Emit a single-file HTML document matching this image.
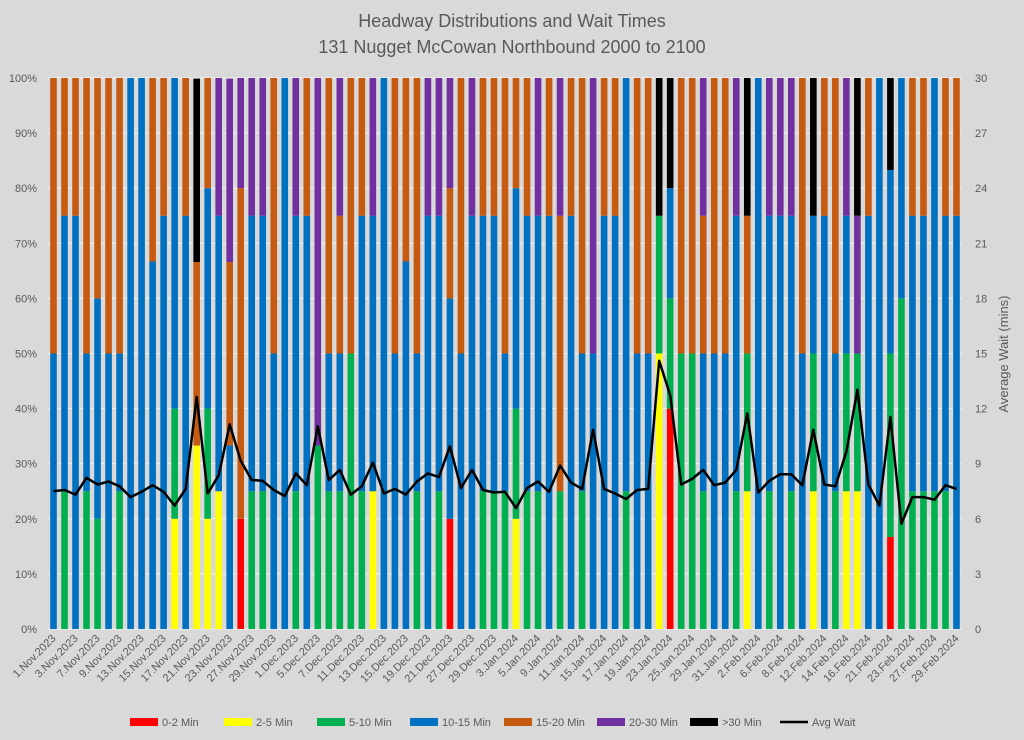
<!DOCTYPE html>
<html><head><meta charset="utf-8"><style>
html,body{margin:0;padding:0;background:#d9d9d9;}
svg{display:block;font-family:"Liberation Sans",sans-serif;}
</style></head><body>
<svg id="chart" width="1024" height="740" viewBox="0 0 1024 740">
<rect x="0" y="0" width="1024" height="740" fill="#d9d9d9"/>
<text x="512" y="27" text-anchor="middle" font-size="18" fill="#595959">Headway Distributions and Wait Times</text>
<text x="512" y="53" text-anchor="middle" font-size="18" fill="#595959">131 Nugget  McCowan Northbound 2000 to 2100</text>
<g id="grid"></g>
<g id="bars"></g>
<g id="line"></g>
<g id="axes"></g>
<text transform="translate(1008,354) rotate(-90)" text-anchor="middle" font-size="13" fill="#595959">Average Wait (mins)</text>
<g id="legend"></g>
</svg>
<script>
const categories = ["1.Nov.2023","2.Nov.2023","3.Nov.2023","6.Nov.2023","7.Nov.2023","8.Nov.2023","9.Nov.2023","10.Nov.2023","13.Nov.2023","14.Nov.2023","15.Nov.2023","16.Nov.2023","17.Nov.2023","20.Nov.2023","21.Nov.2023","22.Nov.2023","23.Nov.2023","24.Nov.2023","27.Nov.2023","28.Nov.2023","29.Nov.2023","30.Nov.2023",
"1.Dec.2023","4.Dec.2023","5.Dec.2023","6.Dec.2023","7.Dec.2023","8.Dec.2023","11.Dec.2023","12.Dec.2023","13.Dec.2023","14.Dec.2023","15.Dec.2023","18.Dec.2023","19.Dec.2023","20.Dec.2023","21.Dec.2023","22.Dec.2023","27.Dec.2023","28.Dec.2023","29.Dec.2023",
"2.Jan.2024","3.Jan.2024","4.Jan.2024","5.Jan.2024","8.Jan.2024","9.Jan.2024","10.Jan.2024","11.Jan.2024","12.Jan.2024","15.Jan.2024","16.Jan.2024","17.Jan.2024","18.Jan.2024","19.Jan.2024","22.Jan.2024","23.Jan.2024","24.Jan.2024","25.Jan.2024","26.Jan.2024","29.Jan.2024","30.Jan.2024","31.Jan.2024",
"1.Feb.2024","2.Feb.2024","5.Feb.2024","6.Feb.2024","7.Feb.2024","8.Feb.2024","9.Feb.2024","12.Feb.2024","13.Feb.2024","14.Feb.2024","15.Feb.2024","16.Feb.2024","20.Feb.2024","21.Feb.2024","22.Feb.2024","23.Feb.2024","26.Feb.2024","27.Feb.2024","28.Feb.2024","29.Feb.2024"];
const red = [0,0,0,0,0,0,0,0,0,0, 0,0,0,0,0,0,0,20,0,0, 0,0,0,0,0,0,0,0,0,0, 0,0,0,0,0,0,20,0,0,0, 0,0,0,0,0,0,0,0,0,0, 0,0,0,0,0,0,40,0,0,0, 0,0,0,0,0,0,0,0,0,0, 0,0,0,0,0,0,16.7,0,0,0, 0,0,0];
const yellow = [0,0,0,0,0,0,0,0,0,0, 0,20,0,33.3,20,25,0,0,0,0, 0,0,0,0,0,0,0,0,0,25, 0,0,0,0,0,0,0,0,0,0, 0,0,20,0,0,0,0,0,0,0, 0,0,0,0,0,50,0,0,0,0, 0,0,0,25,0,0,0,0,0,25, 0,0,25,25,0,0,0,0,0,0, 0,0,0];
const green = [0,25,0,25,20,0,25,0,0,0, 0,20,0,0,20,0,0,0,25,25, 0,0,25,0,33.3,25,25,50,25,0, 0,0,0,25,0,25,0,0,0,25, 25,25,20,25,25,0,25,0,25,0, 0,0,25,0,0,25,20,50,50,25, 0,0,25,25,0,25,0,25,0,25, 0,25,25,25,0,0,33.3,60,25,25, 25,25,0];
const blue = [50,50,75,25,40,50,25,100,100,66.7, 75,60,75,0,40,50,33.3,0,50,50, 50,100,50,75,0,25,25,0,50,50, 100,50,66.7,25,75,50,40,50,75,50, 50,25,40,50,50,75,0,75,25,50, 75,75,75,50,50,0,20,0,0,25, 50,50,50,0,100,50,75,50,50,25, 75,25,25,0,75,100,33.3,40,50,50, 75,50,75];
const orange = [50,25,25,50,40,50,50,0,0,33.3, 25,0,25,33.3,20,0,33.3,60,0,0, 50,0,0,25,0,50,25,50,25,0, 0,50,33.3,50,0,0,20,50,0,25, 25,50,20,25,0,25,50,25,50,0, 25,25,0,50,50,0,0,50,50,25, 50,50,0,25,0,0,0,0,50,0, 25,50,0,0,25,0,0,0,25,25, 0,25,25];
const purple = [0,0,0,0,0,0,0,0,0,0, 0,0,0,0,0,25,33.3,20,25,25, 0,0,25,0,66.7,0,25,0,0,25, 0,0,0,0,25,25,20,0,25,0, 0,0,0,0,25,0,25,0,0,50, 0,0,0,0,0,0,0,0,0,25, 0,0,25,0,0,25,25,25,0,0, 0,0,25,25,0,0,0,0,0,0, 0,0,0];
const black = [0,0,0,0,0,0,0,0,0,0, 0,0,0,33.3,0,0,0,0,0,0, 0,0,0,0,0,0,0,0,0,0, 0,0,0,0,0,0,0,0,0,0, 0,0,0,0,0,0,0,0,0,0, 0,0,0,0,0,25,20,0,0,0, 0,0,0,25,0,0,0,0,0,25, 0,0,0,25,0,0,16.7,0,0,0, 0,0,0];
const avgWait = [7.51,7.57,7.32,8.23,7.87,8.03,7.77,7.18,7.47,7.83, 7.47,6.72,7.63,12.63,7.38,8.37,11.14,9.16,8.11,8.07, 7.57,7.24,8.47,7.83,11.04,8.11,8.66,7.32,7.77,9.06, 7.38,7.63,7.32,8.03,8.47,8.27,9.95,7.67,8.66,7.57, 7.43,7.47,6.58,7.67,8.03,7.47,8.9,7.97,7.63,10.85, 7.63,7.38,7.08,7.57,7.63,14.61,12.73,7.87,8.17,8.66, 7.83,7.97,8.66,11.74,7.43,8.07,8.43,8.43,7.83,10.85, 7.87,7.77,9.66,13.03,7.87,6.72,11.54,5.73,7.18,7.18, 7.04,7.83,7.63];
const leftTicks = [0,10,20,30,40,50,60,70,80,90,100];
const rightTicks = [0,3,6,9,12,15,18,21,24,27,30];
const seriesNames = ["0-2 Min","2-5 Min","5-10 Min","10-15 Min","15-20 Min","20-30 Min",">30 Min"];

const NS="http://www.w3.org/2000/svg";
const colors=["#ff0000","#ffff00","#00b050","#0070c0","#c55a11","#7030a0","#000000"];
const series=[red,yellow,green,blue,orange,purple,black];
const X0=48, X1=962, Y0=629, Y1=78;
const slot=(X1-X0)/categories.length;
const bw=slot*0.6;
function xC(i){return X0+slot*(i+0.5);}
function yP(p){return Y0-(Y0-Y1)*p/100;}
function yW(v){return Y0-(Y0-Y1)*v/30;}
function mk(tag,attrs,parent){const e=document.createElementNS(NS,tag);for(const k in attrs)e.setAttribute(k,attrs[k]);parent.appendChild(e);return e;}

const grid=document.getElementById('grid');
leftTicks.forEach(t=>{
  const l=mk('line',{x1:X0,x2:X1,y1:yP(t),y2:yP(t),stroke:'#f2f2f2','stroke-width':1},grid);
  
  
});
const barsG=document.getElementById('bars');
categories.forEach((c,i)=>{
  let cum=0;
  series.forEach((s,k)=>{
    const v=s[i]; if(!v) return;
    const r=mk('rect',{x:xC(i)-bw/2,y:yP(cum+v),width:bw,height:yP(cum)-yP(cum+v),fill:colors[k]},barsG);
    
    
    cum+=v;
  });
});
const lineG=document.getElementById('line');
const pts=avgWait.map((v,i)=>xC(i).toFixed(1)+','+yW(v).toFixed(1)).join(' ');
const pl=mk('polyline',{points:pts,fill:'none',stroke:'#000','stroke-width':2.5,'stroke-linejoin':'round'},lineG);



const axes=document.getElementById('axes');
leftTicks.forEach(t=>{
  const e=mk('text',{x:37,y:yP(t)+4,'text-anchor':'end','font-size':11,fill:'#595959'},axes);
  e.textContent=t+'%';
  
  
});
rightTicks.forEach(t=>{
  const e=mk('text',{x:975,y:yW(t)+4,'text-anchor':'start','font-size':11,fill:'#595959'},axes);
  e.textContent=t;
  
  
});
categories.forEach((c,i)=>{
  if(i%2) return;
  const x=xC(i)+3, y=639;
  const e=mk('text',{x:x,y:y,'text-anchor':'end','font-size':11,fill:'#595959',transform:`rotate(-45 ${x} ${y})`},axes);
  e.textContent=c;
  
  
});

const leg=document.getElementById('legend');
const lx=[130,224,317,410,504,597,690];
seriesNames.forEach((n,k)=>{
  const g=mk('g',{},leg);
  
  
  mk('rect',{x:lx[k],y:718,width:28,height:8,fill:colors[k]},g);
  const t=mk('text',{x:lx[k]+32,y:726,'font-size':11,fill:'#595959'},g);
  t.textContent=n;
});
const g2=mk('g',{},leg);


mk('line',{x1:780,x2:808,y1:722,y2:722,stroke:'#000','stroke-width':2.5},g2);
const t2=mk('text',{x:812,y:726,'font-size':11,fill:'#595959'},g2);
t2.textContent='Avg Wait';
</script>
</body></html>
